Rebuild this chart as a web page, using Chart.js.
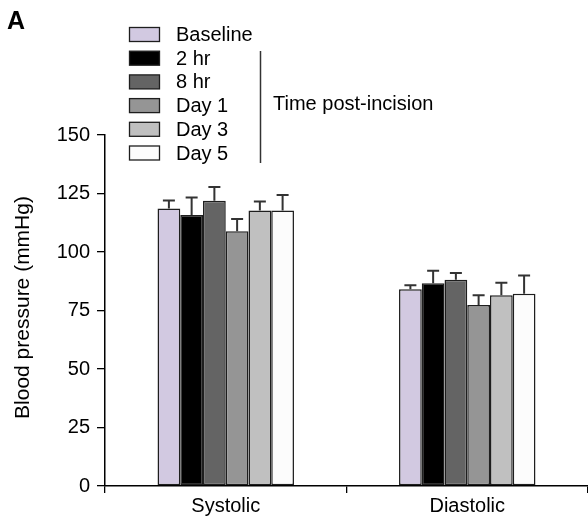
<!DOCTYPE html>
<html>
<head>
<meta charset="utf-8">
<script src="https://cdn.jsdelivr.net/npm/chart.js@4/dist/chart.umd.min.js"></script>
<style>
html,body{margin:0;padding:0;background:#fff;}
#wrap{width:588px;height:518px;position:relative;}
</style>
</head>
<body>
<div id="wrap"><canvas id="c" width="588" height="518"></canvas></div>
<script>
const categories = ["Systolic", "Diastolic"];
const seriesNames = ["Baseline", "2 hr", "8 hr", "Day 1", "Day 3", "Day 5"];
const baseline = [118.6, 84.1];
const hr2 = [115.8, 86.6];
const hr8 = [121.9, 88.1];
const day1 = [108.9, 77.4];
const day3 = [117.7, 81.5];
const day5 = [117.7, 82.2];
const errBaseline = [3.4, 1.7];
const errHr2 = [7.5, 5.4];
const errHr8 = [5.9, 2.9];
const errDay1 = [5.2, 4.1];
const errDay3 = [3.9, 5.4];
const errDay5 = [6.7, 7.8];
const yTicks = [0, 25, 50, 75, 100, 125, 150];
const yTitle = "Blood pressure (mmHg)";
const groupLabel = "Time post-incision";
const panelLabel = "A";

const colors = ["#d2c9e1", "#000000", "#646464", "#959595", "#c0c0c0", "#fcfcfc"];
const values = [baseline, hr2, hr8, day1, day3, day5];
const errors = [errBaseline, errHr2, errHr8, errDay1, errDay3, errDay5];

const FONT = "'Liberation Sans', Arial, sans-serif";
const FS = 20;

const datasets = seriesNames.map((n, i) => ({
  label: n,
  data: values[i],
  err: errors[i],
  backgroundColor: colors[i],
  borderColor: "#1e1e1e",
  borderWidth: 1.5,
  borderSkipped: false,
  categoryPercentage: 0.565,
  barPercentage: 1.0
}));

const errorBars = {
  id: "errorBars",
  afterDatasetsDraw(chart) {
    const ctx = chart.ctx;
    const y = chart.scales.y;
    ctx.save();
    ctx.strokeStyle = "#333333";
    ctx.lineWidth = 2;
    chart.data.datasets.forEach((ds, i) => {
      const meta = chart.getDatasetMeta(i);
      meta.data.forEach((bar, j) => {
        const top = y.getPixelForValue(ds.data[j]);
        const cap = y.getPixelForValue(ds.data[j] + ds.err[j]);
        ctx.beginPath();
        ctx.moveTo(bar.x, top);
        ctx.lineTo(bar.x, cap);
        ctx.moveTo(bar.x - 6, cap);
        ctx.lineTo(bar.x + 6, cap);
        ctx.stroke();
      });
    });
    ctx.restore();
  }
};

const decorations = {
  id: "decorations",
  afterDraw(chart) {
    const ctx = chart.ctx;
    const area = chart.chartArea;
    ctx.save();
    // panel label
    ctx.fillStyle = "#000";
    ctx.font = "bold 25px 'Liberation Sans Narrow', 'Liberation Sans', Arial, sans-serif";
    ctx.textBaseline = "alphabetic";
    ctx.textAlign = "left";
    ctx.fillText(panelLabel, 7, 29);
    // y title
    ctx.save();
    ctx.translate(23, (area.top + area.bottom) / 2 - 3);
    ctx.rotate(-Math.PI / 2);
    ctx.font = "21px " + FONT;
    ctx.textAlign = "center";
    ctx.textBaseline = "middle";
    ctx.fillStyle = "#000";
    ctx.fillText(yTitle, 0, 0);
    ctx.restore();
    // legend
    const x0 = 129.5, w = 30, h = 14, startY = 34.5, step = 23.7;
    ctx.font = FS + "px " + FONT;
    ctx.textAlign = "left";
    ctx.textBaseline = "middle";
    chart.data.datasets.forEach((ds, i) => {
      const cy = startY + i * step;
      ctx.fillStyle = ds.backgroundColor;
      ctx.fillRect(x0, cy - h / 2, w, h);
      ctx.strokeStyle = "#1e1e1e";
      ctx.lineWidth = 1.3;
      ctx.strokeRect(x0, cy - h / 2, w, h);
      ctx.fillStyle = "#000";
      ctx.fillText(ds.label, 176, cy + 1);
    });
    // bracket line
    ctx.strokeStyle = "#333";
    ctx.lineWidth = 1.5;
    ctx.beginPath();
    ctx.moveTo(260.5, 51);
    ctx.lineTo(260.5, 163);
    ctx.stroke();
    ctx.fillStyle = "#000";
    ctx.fillText(groupLabel, 273, 104);
    ctx.restore();
  }
};

new Chart(document.getElementById("c"), {
  type: "bar",
  data: { labels: categories, datasets },
  options: {
    responsive: false,
    animation: false,
    devicePixelRatio: 1,
    layout: { padding: { top: 135, right: 0, left: 0, bottom: 0 } },
    plugins: { legend: { display: false }, tooltip: { enabled: false } },
    scales: {
      x: {
        offset: true,
        afterFit(scale) { scale.height = 32; },
        grid: { display: true, offset: true, drawOnChartArea: false, drawTicks: true, tickLength: 7, color: "#000", lineWidth: 1.3 },
        border: { display: true, color: "#000", width: 1.5 },
        ticks: { color: "#000", font: { family: FONT, size: FS }, padding: 1 }
      },
      y: {
        min: 0, max: 150,
        afterFit(scale) { scale.width = 105; },
        afterBuildTicks(scale) { scale.ticks = yTicks.map(v => ({ value: v })); },
        grid: { display: true, drawOnChartArea: false, drawTicks: true, tickLength: 8, color: "#000", lineWidth: 1.3 },
        border: { display: true, color: "#000", width: 1.5 },
        ticks: { color: "#000", font: { family: FONT, size: FS }, padding: 7 }
      }
    }
  },
  plugins: [errorBars, decorations]
});
</script>
</body>
</html>
